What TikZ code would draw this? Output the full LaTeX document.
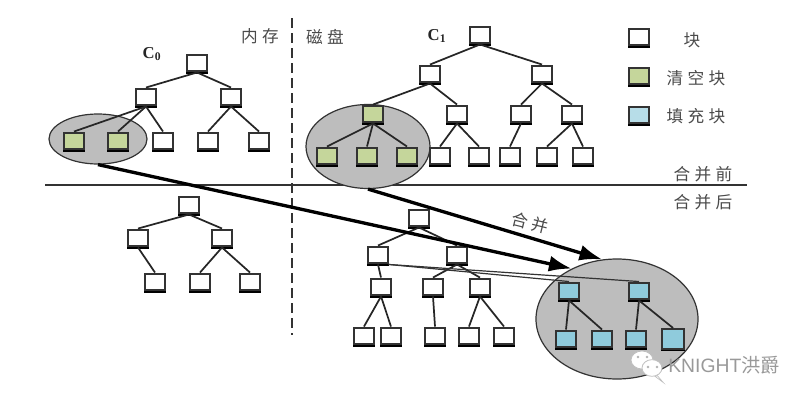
\documentclass[tikz,border=0pt]{standalone}
\usepackage{fontspec}
\setmainfont{Liberation Serif}
\newfontfamily\cjk[LetterSpace=26]{Noto Sans CJK SC}
\newfontfamily\markcjk{Noto Sans CJK SC}
\newfontfamily\marklatin{Liberation Sans}
\usetikzlibrary{arrows.meta,shapes.geometric}
\definecolor{ink}{HTML}{4A4A4A}
\definecolor{clearfill}{HTML}{C5D69B}
\definecolor{fillblue}{HTML}{8FCBDC}
\definecolor{legendblue}{HTML}{B7DDE8}
\definecolor{poolgray}{HTML}{BDBDBD}
\tikzset{
  blockbase/.style={draw=black!80,line width=1.6pt,minimum width=14.4pt,minimum height=12.6pt,inner sep=0pt,
    append after command={\pgfextra{\draw[black,line width=2pt]
      (\tikzlastnode.south west) -- (\tikzlastnode.south east);}}},
  block/.style={blockbase,fill=white},
  cleared/.style={blockbase,fill=clearfill},
  filled/.style={blockbase,fill=fillblue},
  pool/.style={ellipse,draw=black!80,line width=0.9pt,fill=poolgray,inner sep=0pt},
  link/.style={draw=black!85,line width=1.3pt},
  merge/.style={draw=black,line width=2.5pt,-{Latex[length=17pt,width=12pt]}},
  thin link/.style={draw=black!80,line width=0.9pt},
  label/.style={text=ink,font=\cjk\fontsize{12.5}{12.5}\selectfont,inner sep=0pt},
  level/.style={font=\bfseries\fontsize{12.5}{12.5}\selectfont,inner sep=0pt,text=black!85},
  divider/.style={draw=black!80,line width=0.9pt},
  bubble/.style={ellipse,draw=black!25,line width=0.6pt,fill=white,inner sep=0pt}
}
\begin{document}
\begin{tikzpicture}[x=0.75pt,y=-0.75pt]
\useasboundingbox (0,0) rectangle (807,400);

% dividers between memory and disk, before and after
\coordinate (hl) at (45,185);
\coordinate (hr) at (747,185);
\coordinate (vt) at (292,18);
\coordinate (vb) at (292,335);
\draw[divider] (hl) -- (hr);
\draw[divider,dash pattern=on 7.5pt off 3.75pt] (vt) -- (vb);

% merge regions
\node[pool,minimum width=73.5pt,minimum height=37.5pt] (e0) at (98,139) {};
\node[pool,minimum width=93pt,minimum height=63pt] (e1) at (368,146.5) {};
\node[pool,minimum width=121.5pt,minimum height=90pt] (e2) at (617,319) {};

% C0 before the merge
\node[block] (a) at (197,63) {};
\node[block] (a1) at (146,97) {};
\node[block] (a2) at (231,97) {};
\node[cleared] (a11) at (74,141) {};
\node[cleared] (a12) at (118,141) {};
\node[block] (a13) at (163,141) {};
\node[block] (a21) at (208,141) {};
\node[block] (a22) at (259,141) {};
\foreach \p/\c in {a/a1,a/a2,a1/a11,a1/a12,a1/a13,a2/a21,a2/a22}
  \draw[link] (\p.south) -- (\c.north);

% C1 before the merge
\node[block] (b) at (480,35) {};
\node[block] (b1) at (430,74) {};
\node[block] (b2) at (542,74) {};
\node[cleared] (b11) at (373,114) {};
\node[block] (b12) at (457,114) {};
\node[block] (b21) at (521,114) {};
\node[block] (b22) at (572,114) {};
\node[cleared] (b111) at (327,156) {};
\node[cleared] (b112) at (367,156) {};
\node[cleared] (b113) at (407,156) {};
\node[block] (b121) at (440,156) {};
\node[block] (b122) at (479,156) {};
\node[block] (b211) at (510,156) {};
\node[block] (b221) at (547,156) {};
\node[block] (b222) at (583,156) {};
\foreach \p/\c in {b/b1,b/b2,b1/b11,b1/b12,b2/b21,b2/b22,b11/b111,b11/b112,b11/b113,b12/b121,b12/b122,b21/b211,b22/b221,b22/b222}
  \draw[link] (\p.south) -- (\c.north);

% C0 after the merge
\node[block] (c) at (189,205) {};
\node[block] (c1) at (138,238) {};
\node[block] (c2) at (222,238) {};
\node[block] (c11) at (155,282) {};
\node[block] (c21) at (200,282) {};
\node[block] (c22) at (250,282) {};
\foreach \p/\c in {c/c1,c/c2,c1/c11,c2/c21,c2/c22}
  \draw[link] (\p.south) -- (\c.north);

% C1 after the merge
\node[block] (d) at (419,218) {};
\node[block] (d1) at (378,255) {};
\node[block] (d2) at (457,255) {};
\node[block] (d11) at (381,287) {};
\node[block] (d21) at (433,287) {};
\node[block] (d22) at (480,287) {};
\node[block] (d111) at (364,336) {};
\node[block] (d112) at (391,336) {};
\node[block] (d211) at (435,336) {};
\node[block] (d221) at (469,336) {};
\node[block] (d222) at (504,336) {};
\foreach \p/\c in {d/d1,d/d2,d1/d11,d2/d21,d2/d22,d11/d111,d11/d112,d21/d211,d22/d221,d22/d222}
  \draw[link] (\p.south) -- (\c.north);

% filled blocks written by the merge
\node[filled] (f1) at (569,291) {};
\node[filled] (f2) at (639,291) {};
\node[filled] (f11) at (566,339) {};
\node[filled] (f12) at (602,339) {};
\node[filled] (f21) at (636,339) {};
\node[filled,minimum width=17pt,minimum height=15pt] (f22) at (673,339) {};
\foreach \p/\c in {f1/f11,f1/f12,f2/f21,f2/f22}
  \draw[link] (\p.south) -- (\c.north);
\draw[thin link] (d1.south east) -- (f1.north);
\draw[thin link] (d1.south east) -- (f2.north);

% merge arrows
\draw[merge] (e0.south) -- (e2.132);
\draw[merge] (e1.south) -- (e2.104);

% legend
\node[block] (k1) at (639,37) {};
\node[cleared] (k2) at (639,76) {};
\node[blockbase,fill=legendblue] (k3) at (639,115) {};
\node[label] (t1) at (692,40) {块};
\node[label] (t2) at (696,78) {清空块};
\node[label] (t3) at (696,116) {填充块};

% captions
\node[label] (m) at (260,36) {内存};
\node[label] (n) at (325,37) {磁盘};
\node[level] (l0) at (152,54) {C\textsubscript{0}};
\node[level] (l1) at (437,36) {C\textsubscript{1}};
\node[label] (before) at (703,174) {合并前};
\node[label] (after) at (703,202) {合并后};
\node[label,rotate=-14] (mg) at (530,223) {合并};

% account mark in the lower corner
\node[bubble,minimum width=16.5pt,minimum height=13.5pt] (w1) at (642,360) {};
\node[bubble,minimum width=15pt,minimum height=12.5pt] (w2) at (652,368) {};
\fill[white,draw=black!25,line width=0.5pt] (w2.-70) -- (w2.-55) -- ++(6,7) -- cycle;
\foreach \x/\y in {638/357,647/357,648/367,657/367}
  \fill[black!30] (\x,\y) circle (1.1pt);
\node[text=black!40,inner sep=0pt,anchor=west,font=\fontsize{14.5}{14.5}\selectfont] (w) at (668,365)
  {\marklatin KNIGHT\markcjk 洪爵};
\end{tikzpicture}
\end{document}
